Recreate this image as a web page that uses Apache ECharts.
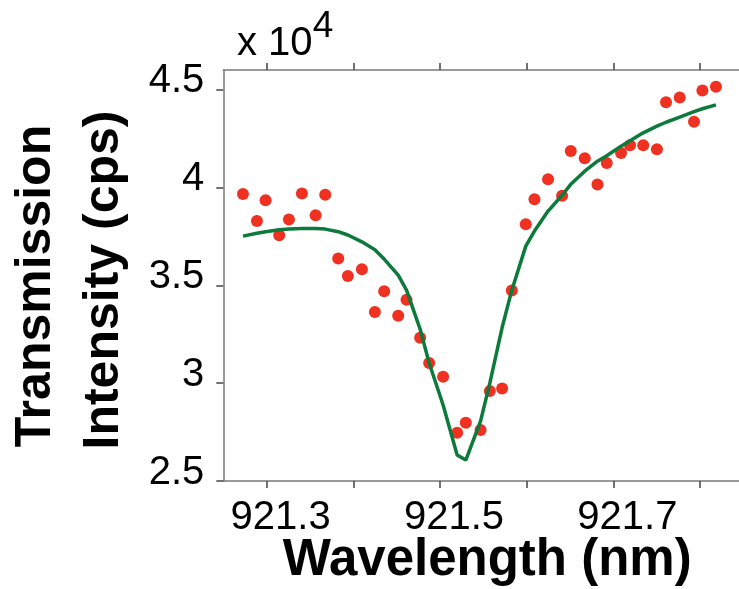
<!DOCTYPE html>
<html>
<head>
<meta charset="utf-8">
<script src="https://cdn.jsdelivr.net/npm/echarts@6/dist/echarts.min.js"></script>
<style>
html,body{margin:0;padding:0;background:#fff;}
#chart{width:739px;height:589px;}
</style>
</head>
<body>
<div id="chart"></div>
<script>
// Wavelength of each measurement (nm)
var wavelengths = [921.2727, 921.2888, 921.2988, 921.3145, 921.3257, 921.3407, 921.3565, 921.3676, 921.3826, 921.3937,
  921.4099, 921.4249, 921.4356, 921.4518, 921.4614, 921.4771, 921.4875, 921.5036, 921.5198, 921.5298,
  921.5468, 921.5575, 921.5717, 921.5829, 921.5990, 921.6090, 921.6247, 921.6409, 921.6509, 921.6670,
  921.6817, 921.6924, 921.7089, 921.7193, 921.7345, 921.7503, 921.7608, 921.7766, 921.7931, 921.8028, 921.8184];
// Measured transmission intensity (x 10^4 cps)
var measured = [3.967, 3.829, 3.935, 3.756, 3.836, 3.969, 3.858, 3.962, 3.637, 3.547,
  3.582, 3.364, 3.469, 3.344, 3.426, 3.232, 3.103, 3.033, 2.747, 2.798,
  2.760, 2.960, 2.973, 3.473, 3.812, 3.940, 4.042, 3.957, 4.186, 4.149,
  4.015, 4.125, 4.176, 4.216, 4.215, 4.195, 4.435, 4.459, 4.335, 4.495, 4.515];
// Fitted curve (x 10^4 cps) at the same wavelengths
var fitted = [3.751, 3.766, 3.774, 3.784, 3.788, 3.790, 3.790, 3.787, 3.774, 3.757,
  3.722, 3.682, 3.634, 3.552, 3.475, 3.276, 3.103, 2.888, 2.633, 2.607,
  2.806, 3.000, 3.284, 3.475, 3.700, 3.777, 3.879, 3.960, 4.016, 4.083,
  4.134, 4.162, 4.211, 4.239, 4.279, 4.313, 4.333, 4.359, 4.387, 4.402, 4.422];
// Tick marks and labels
var xTicks = [921.3, 921.4, 921.5, 921.6, 921.7, 921.8];
var xTickLabels = [921.3, 921.5, 921.7];
var yTicks = [2.5, 3, 3.5, 4, 4.5];
var xTitle = 'Wavelength (nm)';
var yTitle1 = 'Transmission';
var yTitle2 = 'Intensity (cps)';
var scaleText = 'x 10';
var scaleExp = '4';

var FONT = "'Liberation Sans', Arial, sans-serif";
var chart = echarts.init(document.getElementById('chart'), null, {renderer: 'canvas'});

var scatterData = wavelengths.map(function (w, i) { return [w, measured[i]]; });
var fitData = wavelengths.map(function (w, i) { return [w, fitted[i]]; });

var axisLineStyle = {color: '#7a7a7a', width: 1.5};

chart.setOption({
  animation: false,
  backgroundColor: '#ffffff',
  grid: {left: 223.3, top: 70, right: 0, bottom: 108, containLabel: false, outerBoundsMode: 'none'},
  xAxis: [{
    type: 'value',
    position: 'bottom',
    min: 921.25,
    max: 921.845,
    splitLine: {show: false},
    axisLine: {show: true, onZero: false, lineStyle: axisLineStyle},
    axisTick: {show: true, inside: false, length: 7, customValues: xTicks, lineStyle: {color: '#444', width: 1.5}},
    axisLabel: {
      show: true, customValues: xTickLabels, color: '#000', fontFamily: FONT, fontSize: 40,
      lineHeight: 40, margin: 17, padding: [0, 0, 0, 28],
      formatter: function (v) { return v.toFixed(1); }
    },
    name: xTitle,
    nameLocation: 'middle',
    nameGap: 54,
    nameMoveOverlap: false,
    nameTextStyle: {color: '#000', fontFamily: FONT, fontSize: 51, fontWeight: 'bold', lineHeight: 51, padding: [0, 0, 0, 12]}
  }, {
    type: 'value',
    position: 'top',
    min: 921.25,
    max: 921.845,
    splitLine: {show: false},
    axisLine: {show: true, onZero: false, lineStyle: axisLineStyle},
    axisTick: {show: true, inside: false, length: 7, customValues: xTicks, lineStyle: {color: '#444', width: 1.5}},
    axisLabel: {show: false}
  }],
  yAxis: [{
    type: 'value',
    min: 2.5,
    max: 4.6,
    splitLine: {show: false},
    axisLine: {show: true, onZero: false, lineStyle: axisLineStyle},
    axisTick: {show: true, inside: false, length: 7, customValues: yTicks, lineStyle: {color: '#444', width: 1.5}},
    axisLabel: {
      show: true, customValues: yTicks, color: '#000', fontFamily: FONT, fontSize: 40,
      lineHeight: 17, verticalAlign: 'bottom', margin: 19,
      formatter: function (v) { return String(v); }
    }
  }],
  graphic: [
    {type: 'text', x: 36.5, y: 286, rotation: Math.PI / 2,
      style: {text: yTitle1, font: 'bold 50px ' + FONT, fill: '#000', align: 'center', verticalAlign: 'middle'}},
    {type: 'text', x: 104.5, y: 280, rotation: Math.PI / 2,
      style: {text: yTitle2, font: 'bold 50px ' + FONT, fill: '#000', align: 'center', verticalAlign: 'middle'}},
    {type: 'text', x: 237, y: 44.4,
      style: {text: scaleText, font: '40px ' + FONT, fill: '#000', align: 'left', verticalAlign: 'middle'}},
    {type: 'text', x: 312.7, y: 27.2,
      style: {text: scaleExp, font: '37px ' + FONT, fill: '#000', align: 'left', verticalAlign: 'middle'}}
  ],
  series: [{
    type: 'scatter',
    xAxisIndex: 0,
    yAxisIndex: 0,
    data: scatterData,
    symbol: 'circle',
    symbolSize: 12,
    itemStyle: {color: '#f03020', opacity: 1},
    z: 2
  }, {
    type: 'line',
    xAxisIndex: 0,
    yAxisIndex: 0,
    data: fitData,
    showSymbol: false,
    smooth: false,
    lineStyle: {color: '#0b7a3b', width: 3.5},
    z: 3
  }]
});
</script>
</body>
</html>
